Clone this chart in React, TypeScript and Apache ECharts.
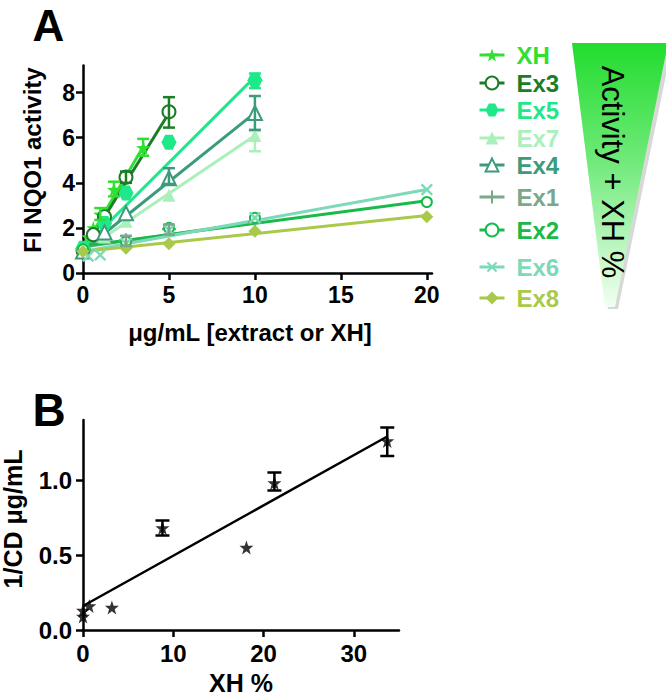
import React, { useEffect, useRef } from "react";
import * as echarts from "echarts";

// ---------- Panel A data ----------
const xTicksA = [0, 5, 10, 15, 20];
const yTicksA = [0, 2, 4, 6, 8];

const xhX = [0, 0.3, 0.6, 1, 1.8, 3.5];
const xhY = [1.0, 1.6, 2.0, 2.6, 3.7, 5.55];
const xhErr = [[1, 2.35, 2.88], [1.8, 3.4, 4.05], [3.5, 5.2, 5.95]];
const xhFit = [[0, 1.05], [3.5, 5.6]];

const ex3X = [0, 0.6, 1.25, 2.5, 5];
const ex3Y = [1.0, 1.7, 2.5, 4.25, 7.15];
const ex3Err = [[2.5, 4.0, 4.5], [5, 6.45, 7.8]];
const ex3Fit = [[0, 0.95], [5, 7.1]];

const ex5X = [0, 1.25, 2.5, 5, 10];
const ex5Y = [1.1, 2.2, 3.55, 5.8, 8.55];
const ex5Err = [[10, 8.2, 8.85]];
const ex5Fit = [[0, 1.1], [10, 8.7]];

const ex7X = [0, 1.25, 2.5, 5, 10];
const ex7Y = [1.0, 1.6, 2.3, 3.45, 6.1];
const ex7Err = [[10, 5.4, 6.3]];
const ex7Fit = [[0, 0.95], [10, 6.1]];

const ex4X = [0, 1.25, 2.5, 5, 10];
const ex4Y = [0.95, 1.8, 2.65, 4.2, 7.1];
const ex4Err = [[5, 3.95, 4.65], [10, 6.35, 7.85]];
const ex4Fit = [[0, 1.0], [10, 7.1]];

const ex1X = [0, 2.5, 5, 10];
const ex1Y = [1.0, 1.45, 1.95, 2.25];
const ex1Err = [[2.5, 1.2, 1.65], [5, 1.7, 2.15]];
const ex1Fit = [[0, 1.15], [10, 2.25]];

const ex2X = [0, 2.5, 5, 10, 20];
const ex2Y = [1.05, 1.4, 2.0, 2.45, 3.15];
const ex2Err: number[][] = [];
const ex2Fit = [[0, 1.2], [20, 3.2]];

const ex6X = [0.3, 1, 2.5, 5, 10, 20];
const ex6Y = [0.75, 0.8, 1.3, 1.9, 2.45, 3.7];
const ex6Err: number[][] = [];
const ex6Fit = [[0, 0.95], [20, 3.7]];

const ex8X = [0, 2.5, 5, 10, 20];
const ex8Y = [0.95, 1.1, 1.3, 1.85, 2.5];
const ex8Err: number[][] = [];
const ex8Fit = [[0, 0.95], [20, 2.55]];

// ---------- Panel B data ----------
const xTicksB = [0, 10, 20, 30];
const yTicksB = [0, 0.5, 1.0];
const xhPct = [0, 0, 0.7, 3.2, 8.8, 18.1, 21.2, 33.7];
const invCD = [0.09, 0.13, 0.16, 0.15, 0.68, 0.55, 0.98, 1.26];
const errB = [[8.8, 0.63, 0.73], [21.2, 0.93, 1.05], [33.7, 1.16, 1.35]];
const fitB = [[0, 0.16], [33.7, 1.29]];

// ---------- styles ----------
const FONT = "'Liberation Sans', Arial, Helvetica, sans-serif";
const STAR = "path://M0,-1 L0.235,-0.324 L0.951,-0.309 L0.380,0.124 L0.588,0.809 L0,0.4 L-0.588,0.809 L-0.380,0.124 L-0.951,-0.309 L-0.235,-0.324 Z";
const PLUS = "path://M0.42,0 L0.58,0 L0.58,0.42 L1,0.42 L1,0.58 L0.58,0.58 L0.58,1 L0.42,1 L0.42,0.58 L0,0.58 L0,0.42 L0.42,0.42 Z";
const HEX = "path://M0.25,0 L0.75,0 L1,0.5 L0.75,1 L0.25,1 L0,0.5 Z";

const SERIES_A = [
  { name: "XH", x: xhX, y: xhY, err: xhErr, fit: xhFit },
  { name: "Ex3", x: ex3X, y: ex3Y, err: ex3Err, fit: ex3Fit },
  { name: "Ex5", x: ex5X, y: ex5Y, err: ex5Err, fit: ex5Fit },
  { name: "Ex7", x: ex7X, y: ex7Y, err: ex7Err, fit: ex7Fit },
  { name: "Ex4", x: ex4X, y: ex4Y, err: ex4Err, fit: ex4Fit },
  { name: "Ex1", x: ex1X, y: ex1Y, err: ex1Err, fit: ex1Fit },
  { name: "Ex2", x: ex2X, y: ex2Y, err: ex2Err, fit: ex2Fit },
  { name: "Ex6", x: ex6X, y: ex6Y, err: ex6Err, fit: ex6Fit },
  { name: "Ex8", x: ex8X, y: ex8Y, err: ex8Err, fit: ex8Fit },
];

const STYLE_A: Record<string, { color: string; symbol: string; size: number; rotate?: number; empty?: boolean; bw?: number }> = {
  XH: { color: "#2fe030", symbol: STAR, size: 14 },
  Ex3: { color: "#1b7d25", symbol: "emptyCircle", size: 13, empty: true, bw: 2 },
  Ex5: { color: "#1ee88a", symbol: HEX, size: 15 },
  Ex7: { color: "#aaf0bb", symbol: "triangle", size: 13 },
  Ex4: { color: "#3b9b7b", symbol: "emptyTriangle", size: 14, empty: true, bw: 2 },
  Ex1: { color: "#7aa88a", symbol: PLUS, size: 14 },
  Ex2: { color: "#18ba4a", symbol: "emptyCircle", size: 10, empty: true, bw: 1.5 },
  Ex6: { color: "#7ddab8", symbol: PLUS, size: 15, rotate: 45 },
  Ex8: { color: "#a8c94a", symbol: "diamond", size: 13 },
};

const LEGEND_ROWS = [55, 83, 110, 138, 165, 197, 230, 267, 298];

function errorRenderer(color: string, half: number) {
  return (params: any, api: any) => {
    const x = api.value(0);
    const lo = api.coord([x, api.value(1)]);
    const hi = api.coord([x, api.value(2)]);
    const st = { stroke: color, lineWidth: 2.5, fill: "none" };
    return {
      type: "group",
      children: [
        { type: "line", shape: { x1: lo[0], y1: lo[1], x2: hi[0], y2: hi[1] }, style: st },
        { type: "line", shape: { x1: lo[0] - half, y1: lo[1], x2: lo[0] + half, y2: lo[1] }, style: st },
        { type: "line", shape: { x1: hi[0] - half, y1: hi[1], x2: hi[0] + half, y2: hi[1] }, style: st },
      ],
    };
  };
}

function axis(ticks: number[], min: number, max: number, fontSize: number, margin: number, gridIndex: number, fmt?: (v: number) => string) {
  return {
    type: "value",
    gridIndex,
    min,
    max,
    axisLine: { show: true, onZero: false, lineStyle: { color: "#000", width: 2.5 } },
    axisTick: { show: true, inside: false, length: 7, customValues: ticks, lineStyle: { color: "#000", width: 2.5 } },
    axisLabel: {
      show: true,
      customValues: ticks,
      fontFamily: FONT,
      fontWeight: "bold",
      fontSize,
      color: "#000",
      margin,
      formatter: fmt ? (v: number) => fmt(v) : (v: number) => String(v),
    },
    splitLine: { show: false },
  };
}

export default function App() {
  const ref = useRef<HTMLDivElement>(null);
  useEffect(() => {
    if (!ref.current) return;
    const chart = echarts.init(ref.current, null, { renderer: "svg" });

    const series: any[] = [];
    SERIES_A.forEach((s) => {
      series.push({
        type: "line",
        xAxisIndex: 0,
        yAxisIndex: 0,
        data: s.fit,
        symbol: "none",
        lineStyle: { color: STYLE_A[s.name].color, width: 3 },
        silent: true,
        z: 2,
      });
    });
    SERIES_A.forEach((s) => {
      const st = STYLE_A[s.name];
      series.push({
        type: "line",
        name: s.name,
        xAxisIndex: 0,
        yAxisIndex: 0,
        data: s.x.map((x, i) => [x, s.y[i]]),
        symbol: st.symbol,
        symbolSize: st.size,
        symbolRotate: st.rotate || 0,
        showSymbol: true,
        lineStyle: { opacity: 0, color: st.color, width: 3 },
        itemStyle: { color: st.color, borderColor: st.color, borderWidth: st.empty ? st.bw : 0 },
        z: 3,
      });
    });
    SERIES_A.forEach((s) => {
      if (!s.err.length) return;
      series.push({
        type: "custom",
        xAxisIndex: 0,
        yAxisIndex: 0,
        data: s.err,
        encode: { x: 0, y: [1, 2] },
        renderItem: errorRenderer(STYLE_A[s.name].color, 6),
        z: 4,
      });
    });
    series.push({
      type: "line",
      xAxisIndex: 1,
      yAxisIndex: 1,
      data: fitB,
      symbol: "none",
      lineStyle: { color: "#000", width: 2.5 },
      z: 2,
    });
    series.push({
      type: "scatter",
      xAxisIndex: 1,
      yAxisIndex: 1,
      data: xhPct.map((x, i) => [x, invCD[i]]),
      symbol: STAR,
      symbolSize: 14,
      itemStyle: { color: "#000" },
      z: 3,
    });
    series.push({
      type: "custom",
      xAxisIndex: 1,
      yAxisIndex: 1,
      data: errB,
      encode: { x: 0, y: [1, 2] },
      renderItem: errorRenderer("#000", 7),
      z: 4,
    });

    const legends = SERIES_A.map((s, i) => ({
      data: [s.name],
      left: 478,
      top: LEGEND_ROWS[i] - 12,
      orient: "vertical",
      padding: 0,
      itemWidth: 25,
      itemHeight: 16,
      selectedMode: false,
      lineStyle: { width: 3, opacity: 1 },
      textStyle: {
        color: STYLE_A[s.name].color,
        fontFamily: FONT,
        fontWeight: "bold",
        fontSize: 24,
        lineHeight: 24,
        padding: [0, 0, 0, 7],
      },
    }));

    const option: any = {
      animation: false,
      backgroundColor: "#fff",
      grid: [
        { left: 83, top: 65.6, width: 349, height: 207.4, containLabel: false },
        { left: 83, top: 420, width: 316, height: 210, containLabel: false },
      ],
      xAxis: [
        axis(xTicksA, 0, 20.3, 23, 10, 0),
        axis(xTicksB, 0, 35, 24, 11, 1),
      ],
      yAxis: [
        axis(yTicksA, 0, 9.2, 23, 8, 0),
        axis(yTicksB, 0, 1.4, 24, 11, 1, (v) => v.toFixed(1)),
      ],
      legend: legends,
      series,
      graphic: [
        {
          type: "polygon",
          shape: { points: [[575, 46], [672, 46], [618, 309], [608, 309]] },
          style: { fill: "#d8d8d8" },
          z: 1,
        },
        {
          type: "polygon",
          shape: { points: [[572, 43], [668, 43], [615, 307], [605, 307]] },
          style: {
            fill: {
              type: "linear",
              x: 0,
              y: 0,
              x2: 0,
              y2: 1,
              colorStops: [
                { offset: 0, color: "#22dc2e" },
                { offset: 0.45, color: "#70ea7a" },
                { offset: 1, color: "#f2fff2" },
              ],
            },
          },
          z: 2,
        },
        {
          type: "text",
          x: 612,
          y: 172,
          rotation: -Math.PI / 2,
          style: { text: "Activity + XH %", fill: "#000", font: `31px ${FONT}`, align: "center", verticalAlign: "middle" },
          z: 3,
        },
        {
          type: "text",
          x: 48.5,
          y: 25,
          style: { text: "A", fill: "#000", font: `bold 44px ${FONT}`, align: "center", verticalAlign: "middle" },
        },
        {
          type: "text",
          x: 49,
          y: 410,
          style: { text: "B", fill: "#000", font: `bold 46px ${FONT}`, align: "center", verticalAlign: "middle" },
        },
        {
          type: "text",
          x: 32.5,
          y: 160,
          rotation: Math.PI / 2,
          style: { text: "FI NQO1 activity", fill: "#000", font: `bold 24px ${FONT}`, align: "center", verticalAlign: "middle" },
        },
        {
          type: "text",
          x: 250,
          y: 332,
          style: { text: "μg/mL [extract or XH]", fill: "#000", font: `bold 24px ${FONT}`, align: "center", verticalAlign: "middle" },
        },
        {
          type: "text",
          x: 13,
          y: 519,
          rotation: Math.PI / 2,
          style: { text: "1/CD μg/mL", fill: "#000", font: `bold 25px ${FONT}`, align: "center", verticalAlign: "middle" },
        },
        {
          type: "text",
          x: 241,
          y: 683,
          style: { text: "XH %", fill: "#000", font: `bold 25px ${FONT}`, align: "center", verticalAlign: "middle" },
        },
      ],
    };
    chart.setOption(option);
    return () => chart.dispose();
  }, []);
  return <div ref={ref} style={{ position: "fixed", left: 0, top: 0, width: 666, height: 697 }} />;
}
